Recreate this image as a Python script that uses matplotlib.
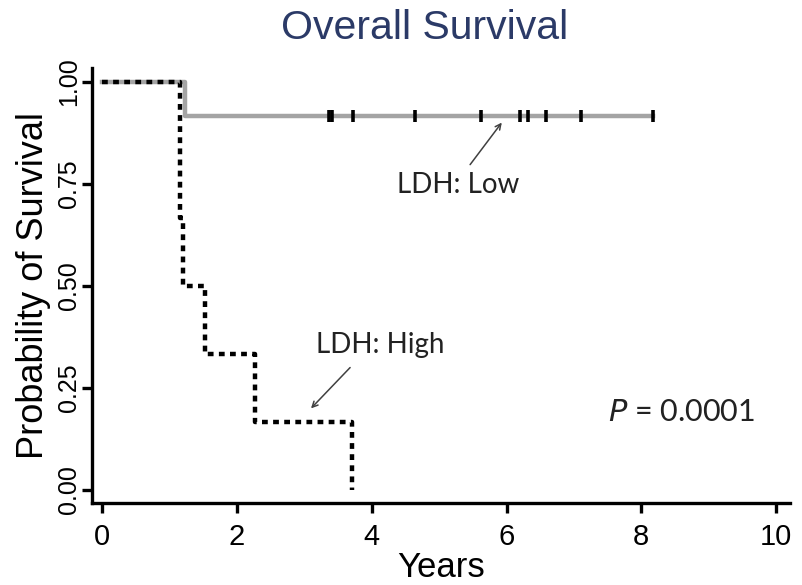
import matplotlib
matplotlib.use("Agg")
import matplotlib.pyplot as plt

# Kaplan-Meier steps
high_times = [0, 1.16, 1.20, 1.53, 2.27, 3.71]
high_surv = [1.0, 0.667, 0.5, 0.333, 0.167, 0.0]

low_times = [0, 1.23, 8.18]
low_surv = [1.0, 0.917, 0.917]
low_censor = [3.37, 3.41, 3.72, 4.65, 5.62, 6.20, 6.32, 6.59, 7.10, 8.18]

x_ticks = [0, 2, 4, 6, 8, 10]
y_ticks = [0.0, 0.25, 0.5, 0.75, 1.0]
y_labels = ["0.00", "0.25", "0.50", "0.75", "1.00"]

sans = ["Liberation Sans", "DejaVu Sans"]
callout = ["Lato", "Open Sans", "DejaVu Sans"]

fig = plt.figure(figsize=(8.02, 5.85), dpi=100)
ax = fig.add_axes([0.1146, 0.140, 0.870, 0.744])

# low LDH: grey solid line with censor ticks
ax.step(low_times, low_surv, where="post", color="#a4a4a4", lw=3.2, zorder=2)
ax.plot(low_censor, [low_surv[-1]] * len(low_censor), ls="none", marker="|",
        color="black", ms=9, mew=2.6, zorder=3)

# high LDH: heavy dotted black line
ax.step(high_times, high_surv, where="post", color="black", lw=3.2,
        ls=(0, (1.3, 1.2)), zorder=4)

ax.set_xlim(-0.15, 10.2)
ax.set_ylim(-0.032, 1.034)
for s in ["top", "right"]:
    ax.spines[s].set_visible(False)
for s in ["left", "bottom"]:
    ax.spines[s].set_linewidth(2.4)

ax.set_xticks(x_ticks)
ax.set_xticklabels([str(t) for t in x_ticks], family=sans, fontsize=21)
ax.set_yticks(y_ticks)
ax.set_yticklabels(y_labels, family=sans, fontsize=18, rotation=90, va="center")
ax.tick_params(width=2.4, length=7)
ax.tick_params(axis="x", pad=7)
ax.tick_params(axis="y", pad=1)

ax.set_xlabel("Years", family=sans, fontsize=25, labelpad=0)
ax.set_ylabel("Probability of Survival", family=sans, fontsize=26, labelpad=4)
fig.text(0.53, 0.952, "Overall Survival", family=sans, fontsize=29.5,
         color="#2b3a67", ha="center", va="center")

arrow = dict(arrowstyle="->", color="#404040", lw=1.1, shrinkA=0, shrinkB=0)
ax.text(5.28, 0.748, "LDH: Low", family=callout, fontsize=20, color="#222222",
        ha="center", va="center")
ax.annotate("", xy=(5.93, 0.90), xytext=(5.46, 0.797), arrowprops=arrow)
ax.text(4.12, 0.355, "LDH: High", family=callout, fontsize=20, color="#222222",
        ha="center", va="center")
ax.annotate("", xy=(3.1, 0.20), xytext=(3.68, 0.30), arrowprops=arrow)

ax.text(8.6, 0.19, "$P$ = 0.0001", family=callout, fontsize=22, color="#222222",
        ha="center", va="center")

fig.savefig("out.png", dpi=100)
